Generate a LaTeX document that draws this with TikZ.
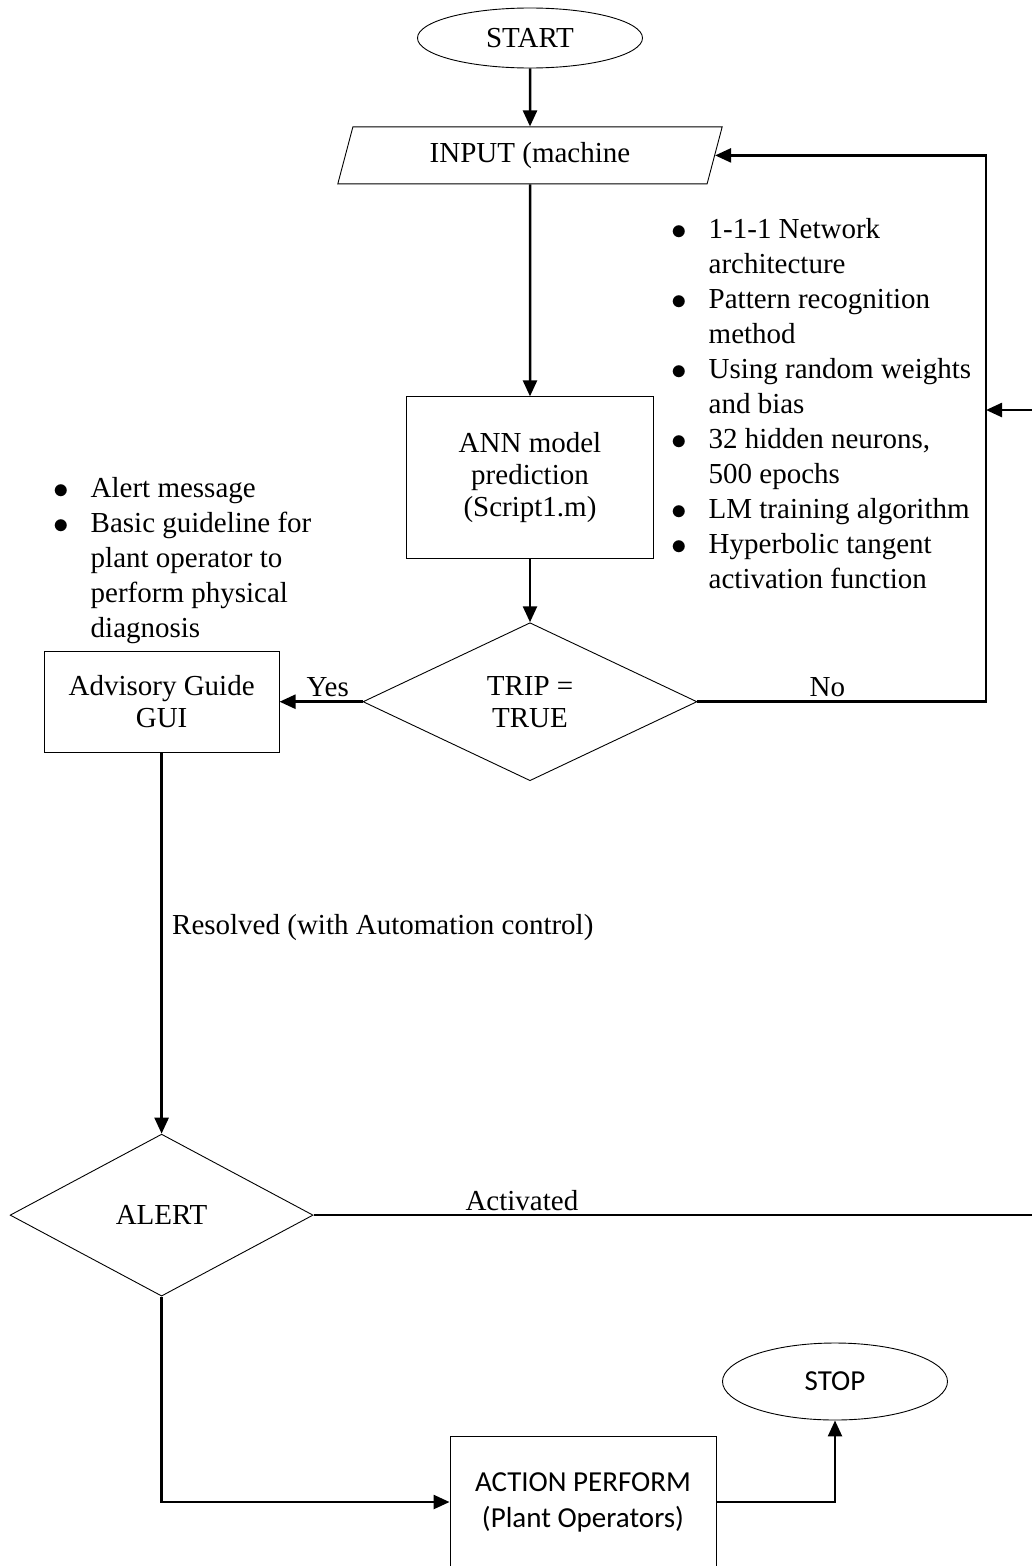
\documentclass[tikz,border=0pt]{standalone}
\usepackage{fontspec}
\setmainfont{Liberation Serif}
\newfontfamily\sansfont{Carlito}
\usetikzlibrary{shapes.geometric, positioning, arrows.meta}
\tikzset{
>={Triangle[length=16pt,width=14pt]},
every node/.style={font=\fontsize{29}{32}\selectfont}, % Times-like text everywhere
terminal/.style={ellipse, draw, line width=0.9pt, minimum width=225pt, inner sep=0pt},
io/.style={trapezium, trapezium left angle=75, trapezium right angle=105, trapezium stretches=true, draw, line width=0.9pt, minimum width=385pt, minimum height=57pt},
process/.style={rectangle, draw, line width=0.9pt, align=center},
decision/.style={diamond, draw, line width=0.9pt, align=center, inner sep=0pt},
flow/.style={->, line width=2.5pt}, % connectors
notes/.style={align=left, inner sep=0pt, anchor=north west, font=\fontsize{29}{35}\selectfont},
}
\newcommand{\itm}{\makebox[37.5pt][l]{\raisebox{-1.5pt}{\scalebox{1.25}{$\bullet$}}}}
\newcommand{\cnt}{\hspace*{37.5pt}}

\begin{document}
\begin{tikzpicture}[x=1pt, y=-1pt]
       \path[use as bounding box] (0,0) rectangle (1032,1566);

       \node[terminal, minimum height=60pt] (start) at (530,38) {START};
       \node[io, below=58pt of start] (input) {INPUT (machine};
       \node[process, below=212pt of input, minimum width=247pt, minimum height=162pt] (ann) {ANN model\\prediction\\(Script1.m)};
       \node[decision, below=63pt of ann, minimum width=334pt, minimum height=158pt] (trip) {TRIP =\\TRUE};
       \node[process, left=83pt of trip, minimum width=235pt, minimum height=101pt] (advisory) {Advisory Guide\\GUI};
       \node[decision, below=381pt of advisory, minimum width=303pt, minimum height=162pt] (alert) {ALERT};
       \node[process, minimum width=266pt, minimum height=132pt, font=\sansfont\fontsize{29}{36}\selectfont] (action) at (583,1502) {ACTION PERFORM\\(Plant Operators)};
       \node[terminal, minimum height=77pt, font=\sansfont\fontsize{29}{32}\selectfont] (stop) at (835,1381.5) {STOP};

       \node[notes] (netnotes) at (671,218) {\itm 1-1-1 Network\\ \cnt architecture\\ \itm Pattern recognition\\ \cnt method\\ \itm Using random weights\\ \cnt and bias\\ \itm 32 hidden neurons,\\ \cnt 500 epochs\\ \itm LM training algorithm\\ \itm Hyperbolic tangent\\ \cnt activation function};
       \node[notes] (guidenotes) at (53,477) {\itm Alert message\\ \itm Basic guideline for\\ \cnt plant operator to\\ \cnt perform physical\\ \cnt diagnosis};

       \coordinate (rx) at (986,0);
       \coordinate (fbin) at (986,410);
       \coordinate (fbedge) at (1032,410);
       \coordinate (edgex) at (1032,0);

     \draw[flow] (start) -- (input);
     \draw[flow] (input) -- (ann);
     \draw[flow] (ann) -- (trip);
     \draw[flow] (trip) -- node[above, pos=0.42]{Yes} (advisory);
     \draw[flow] (trip.east) -- node[above, pos=0.45]{No} (trip.east -| rx) |- (input.east);
     \draw[flow] (fbedge) -- (fbin);
     \draw[flow] (advisory) -- node[right, pos=0.46, xshift=6pt]{Resolved (with Automation control)} (alert);
     \draw[line width=2.5pt] (alert.east) -- node[above, pos=0.29]{Activated} (alert.east -| edgex);
     \draw[flow] (alert.south) |- (action.west);
     \draw[flow] (action.east) -| (stop.south);

\end{tikzpicture}
\end{document}
